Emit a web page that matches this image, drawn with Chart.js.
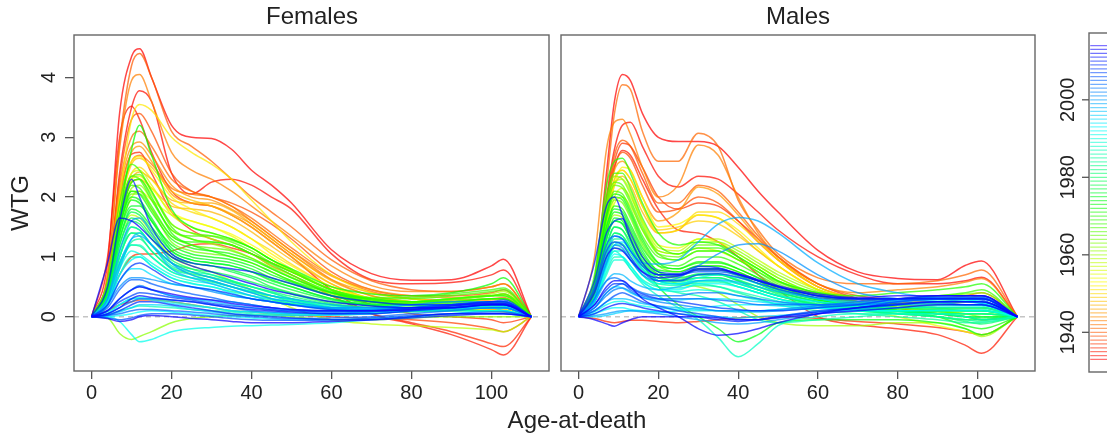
<!DOCTYPE html>
<html>
<head>
<meta charset="utf-8">
<script src="https://cdn.jsdelivr.net/npm/chart.js@4.4.0/dist/chart.umd.min.js"></script>
<style>
  body { margin: 0; background: #fff; overflow: hidden; font-family: "Liberation Sans", Arial, sans-serif; }
  #page { position: relative; width: 1107px; height: 435px; overflow: hidden; }
  .box { position: absolute; top: 0; height: 435px; }
  .lbl { position: absolute; font-size: 24px; line-height: 24px; color: #222; white-space: nowrap; transform: translateX(-50%); }
</style>
</head>
<body>
<div id="page">
  <div class="box" style="left:0;width:552px"><canvas id="fem"></canvas></div>
  <div class="box" style="left:552px;width:490px"><canvas id="mal"></canvas></div>
  <div class="box" style="left:1000px;width:130px"><canvas id="bar"></canvas></div>
  <div class="lbl" style="left:312px;top:4px">Females</div>
  <div class="lbl" style="left:798px;top:4px">Males</div>
  <div class="lbl" style="left:577px;top:408px">Age-at-death</div>
  <div class="lbl" style="left:20px;top:203px;transform:translate(-50%,-50%) rotate(-90deg)">WTG</div>
</div>
<script>
const femaleAges = [0, 4, 7, 10, 12, 15, 20, 25, 30, 35, 40, 45, 50, 60, 70, 80, 90, 100, 103, 110];
const maleAges = [0, 4, 7, 9, 11, 13, 16, 20, 25, 30, 35, 40, 45, 50, 60, 70, 80, 90, 97, 101, 110];

const xTicks = [0, 20, 40, 60, 80, 100];
const yTicks = [0, 1, 2, 3, 4];
const barTicks = [1940, 1960, 1980, 2000];
const barYears = [1933, 1934, 1935, 1936, 1937, 1938, 1939, 1940, 1941, 1942, 1943, 1944, 1945, 1946,
  1947, 1948, 1949, 1950, 1951, 1952, 1953, 1954, 1955, 1956, 1957, 1958, 1959, 1960, 1961, 1962,
  1963, 1964, 1965, 1966, 1967, 1968, 1969, 1970, 1971, 1972, 1973, 1974, 1975, 1976, 1977, 1978,
  1979, 1980, 1981, 1982, 1983, 1984, 1985, 1986, 1987, 1988, 1989, 1990, 1991, 1992, 1993, 1994,
  1995, 1996, 1997, 1998, 1999, 2000, 2001, 2002, 2003, 2004, 2005, 2006, 2007, 2008, 2009, 2010,
  2011, 2012, 2013, 2014];

// one year per row of femaleWTG
const femaleYears = [1933, 1940, 1934, 1935, 1936, 1937, 1938, 1943, 1944, 1945, 1946, 1947, 1951, 1952,
  1954, 1972, 1968, 1966, 1970, 1962, 1964, 1974, 1976, 1978, 1958, 1980, 1982, 1984, 1986, 1988,
  1990, 1993, 1995, 1991, 1997, 1998, 2000, 2010, 2012, 1999, 2001, 2002, 2003, 2004, 2005, 2006,
  2007, 2008, 2009, 2011, 2013, 2014, 1996, 1994, 1992, 1989, 1987,
  1939, 1941, 1942, 1948, 1950, 1953, 1956, 1959, 1961, 1965, 1967, 1969, 1971, 1973, 1975, 1977,
  1979, 1981, 1983, 1985];

const femaleWTG = [
  [0, 0.9, 3.4, 4.35, 4.48, 4.0, 3.2, 3.0, 2.98, 2.8, 2.45, 2.2, 1.9, 1.12, 0.72, 0.61, 0.62, 0.85, 0.96, 0],
  [0, 0.7, 2.9, 4.2, 4.4, 4.0, 3.1, 2.85, 2.6, 2.3, 2.0, 1.75, 1.5, 0.95, 0.6, 0.45, 0.42, 0.5, 0.55, 0],
  [0, 0.5, 2.4, 3.5, 3.78, 3.6, 2.4, 2.05, 2.25, 2.3, 2.2, 2.0, 1.8, 1.05, 0.62, 0.55, 0.57, 0.7, 0.78, 0],
  [0, 1.0, 3.0, 3.52, 3.3, 2.75, 2.1, 1.9, 1.85, 1.7, 1.5, 1.25, 1.0, 0.45, 0.05, -0.12, -0.3, -0.55, -0.64, 0],
  [0, 0.6, 2.0, 2.72, 2.75, 2.4, 1.75, 1.45, 1.3, 1.2, 1.05, 0.85, 0.7, 0.35, 0.05, -0.1, -0.25, -0.45, -0.5, 0],
  [0, 0.3, 0.7, 1.0, 1.05, 1.05, 1.1, 1.2, 1.22, 1.15, 1.05, 0.9, 0.75, 0.45, 0.2, 0.05, 0.0, -0.05, -0.1, 0],
  [0, 0.1, 0.2, 0.25, 0.28, 0.28, 0.25, 0.2, 0.15, 0.1, 0.08, 0.05, 0.03, 0.0, -0.03, -0.05, -0.1, -0.2, -0.25, 0],
  [0, 0.7, 2.8, 3.95, 4.05, 3.6, 2.75, 2.45, 2.3, 2.1, 1.85, 1.6, 1.35, 0.85, 0.52, 0.42, 0.42, 0.5, 0.55, 0],
  [0, 0.6, 2.1, 2.85, 2.92, 2.7, 2.2, 2.0, 1.95, 1.8, 1.6, 1.35, 1.1, 0.68, 0.45, 0.35, 0.32, 0.35, 0.38, 0],
  [0, 0.6, 2.0, 2.75, 2.85, 2.6, 2.05, 1.9, 1.85, 1.72, 1.55, 1.3, 1.05, 0.62, 0.4, 0.3, 0.25, 0.28, 0.3, 0],
  [0, 0.5, 1.6, 2.3, 2.42, 2.3, 1.95, 1.9, 1.9, 1.78, 1.55, 1.3, 1.05, 0.6, 0.35, 0.25, 0.2, 0.2, 0.2, 0],
  [0, 0.5, 1.6, 2.25, 2.3, 2.15, 1.85, 1.8, 1.75, 1.62, 1.42, 1.18, 0.95, 0.55, 0.3, 0.2, 0.15, 0.12, 0.1, 0],
  [0, 0.5, 2.0, 3.3, 3.55, 3.45, 3.0, 2.75, 2.55, 2.3, 1.95, 1.6, 1.25, 0.7, 0.4, 0.3, 0.25, 0.25, 0.25, 0],
  [0, 0.5, 1.8, 2.6, 2.68, 2.45, 2.0, 1.8, 1.65, 1.5, 1.3, 1.05, 0.85, 0.5, 0.3, 0.2, 0.15, 0.1, 0.1, 0],
  [0, 0.4, 1.4, 2.0, 2.1, 1.95, 1.7, 1.6, 1.5, 1.35, 1.15, 0.95, 0.75, 0.45, 0.3, 0.25, 0.2, 0.2, 0.2, 0],
  [0, 0.5, 1.7, 2.8, 3.2, 2.7, 1.8, 1.5, 1.4, 1.3, 1.15, 0.95, 0.8, 0.5, 0.38, 0.35, 0.4, 0.55, 0.65, 0],
  [0, 0.6, 1.9, 2.55, 2.45, 2.1, 1.5, 1.3, 1.25, 1.2, 1.05, 0.9, 0.75, 0.45, 0.32, 0.32, 0.38, 0.45, 0.48, 0],
  [0, 0.5, 1.7, 2.35, 2.38, 2.1, 1.55, 1.4, 1.35, 1.25, 1.1, 0.9, 0.75, 0.45, 0.3, 0.25, 0.3, 0.35, 0.38, 0],
  [0, 0.5, 1.6, 2.25, 2.3, 2.0, 1.4, 1.2, 1.1, 1.0, 0.9, 0.75, 0.6, 0.4, 0.3, 0.25, 0.25, 0.3, 0.3, 0],
  [0, -0.02, -0.28, -0.38, -0.33, -0.25, -0.1, -0.03, 0.0, 0.02, 0.03, 0.02, 0.0, -0.05, -0.05, -0.02, 0.0, 0.0, 0.0, 0],
  [0, 0.5, 1.6, 2.1, 2.1, 1.8, 1.25, 1.1, 1.05, 1.0, 0.9, 0.75, 0.6, 0.35, 0.25, 0.25, 0.3, 0.35, 0.35, 0],
  [0, 0.45, 1.5, 2.0, 1.95, 1.65, 1.15, 1.0, 0.95, 0.9, 0.8, 0.65, 0.55, 0.35, 0.25, 0.2, 0.2, 0.25, 0.25, 0],
  [0, 0.4, 1.4, 1.85, 1.85, 1.6, 1.1, 0.95, 0.9, 0.85, 0.75, 0.6, 0.5, 0.3, 0.2, 0.2, 0.2, 0.2, 0.2, 0],
  [0, 0.4, 1.3, 1.75, 1.7, 1.45, 1.05, 0.9, 0.85, 0.75, 0.65, 0.5, 0.4, 0.25, 0.2, 0.15, 0.15, 0.15, 0.15, 0],
  [0, 0.4, 1.3, 1.7, 1.65, 1.4, 1.0, 0.85, 0.75, 0.6, 0.45, 0.3, 0.15, -0.05, -0.12, -0.15, -0.18, -0.22, -0.25, 0],
  [0, 0.35, 1.2, 1.6, 1.55, 1.3, 0.95, 0.8, 0.7, 0.6, 0.5, 0.4, 0.3, 0.2, 0.15, 0.12, 0.15, 0.2, 0.2, 0],
  [0, 0.3, 1.0, 1.4, 1.4, 1.2, 0.9, 0.75, 0.65, 0.55, 0.45, 0.35, 0.25, 0.15, 0.1, 0.1, 0.1, 0.15, 0.15, 0],
  [0, 0.3, 0.9, 1.25, 1.3, 1.1, 0.8, 0.7, 0.6, 0.5, 0.4, 0.3, 0.22, 0.12, 0.08, 0.08, 0.1, 0.1, 0.1, 0],
  [0, 0.3, 1.0, 1.5, 1.45, 1.2, 0.85, 0.75, 0.7, 0.6, 0.5, 0.4, 0.3, 0.15, 0.1, 0.1, 0.1, 0.1, 0.1, 0],
  [0, 0.25, 0.85, 1.2, 1.2, 1.0, 0.75, 0.65, 0.6, 0.5, 0.42, 0.35, 0.28, 0.18, 0.12, 0.12, 0.15, 0.15, 0.15, 0],
  [0, 0.25, 0.8, 1.1, 1.05, 0.9, 0.7, 0.6, 0.55, 0.45, 0.35, 0.3, 0.25, 0.15, 0.12, 0.15, 0.2, 0.2, 0.2, 0],
  [0, 0.2, 0.7, 0.95, 1.0, 0.85, 0.65, 0.55, 0.5, 0.4, 0.3, 0.25, 0.2, 0.15, 0.15, 0.2, 0.2, 0.2, 0.2, 0],
  [0, 0.2, 0.6, 0.8, 0.8, 0.7, 0.55, 0.5, 0.45, 0.35, 0.3, 0.25, 0.2, 0.15, 0.15, 0.15, 0.15, 0.15, 0.1, 0],
  [0, 0.0, -0.08, -0.3, -0.42, -0.38, -0.25, -0.2, -0.18, -0.16, -0.15, -0.14, -0.13, -0.1, -0.05, 0.0, 0.05, 0.05, 0.05, 0],
  [0, 0.1, 0.3, 0.45, 0.5, 0.45, 0.35, 0.3, 0.25, 0.2, 0.15, 0.12, 0.1, 0.08, 0.1, 0.12, 0.15, 0.15, 0.15, 0],
  [0, 0.2, 0.8, 1.3, 1.4, 1.2, 0.8, 0.65, 0.55, 0.45, 0.35, 0.25, 0.2, 0.12, 0.1, 0.1, 0.12, 0.15, 0.15, 0],
  [0, 0.3, 1.1, 1.6, 1.65, 1.4, 0.9, 0.7, 0.6, 0.5, 0.4, 0.3, 0.25, 0.15, 0.12, 0.15, 0.2, 0.25, 0.25, 0],
  [0, 0.5, 1.6, 2.3, 2.0, 1.5, 1.05, 0.9, 0.85, 0.8, 0.75, 0.65, 0.55, 0.35, 0.25, 0.2, 0.2, 0.25, 0.25, 0],
  [0, 0.9, 1.65, 1.6, 1.5, 1.3, 1.0, 0.85, 0.75, 0.65, 0.55, 0.45, 0.38, 0.25, 0.18, 0.15, 0.15, 0.2, 0.2, 0],
  [0, 0.3, 0.9, 1.3, 1.35, 1.2, 0.9, 0.75, 0.65, 0.55, 0.45, 0.35, 0.3, 0.2, 0.15, 0.15, 0.15, 0.2, 0.2, 0],
  [0, 0.2, 0.5, 0.65, 0.65, 0.62, 0.55, 0.5, 0.42, 0.35, 0.3, 0.25, 0.2, 0.15, 0.15, 0.2, 0.25, 0.25, 0.25, 0],
  [0, 0.1, 0.3, 0.45, 0.52, 0.45, 0.35, 0.3, 0.28, 0.25, 0.2, 0.15, 0.12, 0.1, 0.12, 0.15, 0.2, 0.25, 0.25, 0],
  [0, 0.05, 0.15, 0.25, 0.3, 0.3, 0.28, 0.25, 0.2, 0.15, 0.1, 0.08, 0.06, 0.05, 0.08, 0.12, 0.18, 0.22, 0.22, 0],
  [0, 0.02, 0.05, 0.1, 0.12, 0.12, 0.1, 0.08, 0.05, 0.02, 0.0, -0.02, -0.03, -0.02, 0.0, 0.05, 0.1, 0.15, 0.15, 0],
  [0, 0.15, 0.45, 0.62, 0.62, 0.55, 0.45, 0.38, 0.32, 0.25, 0.2, 0.15, 0.12, 0.1, 0.1, 0.15, 0.2, 0.22, 0.22, 0],
  [0, -0.02, -0.05, -0.02, 0.02, 0.05, 0.05, 0.03, 0.0, -0.03, -0.05, -0.06, -0.06, -0.05, -0.02, 0.02, 0.05, 0.08, 0.08, 0],
  [0, 0.1, 0.25, 0.35, 0.4, 0.38, 0.32, 0.28, 0.22, 0.18, 0.15, 0.12, 0.1, 0.08, 0.1, 0.15, 0.2, 0.25, 0.28, 0],
  [0, 0.2, 0.6, 0.85, 0.9, 0.8, 0.6, 0.5, 0.45, 0.38, 0.3, 0.25, 0.2, 0.12, 0.1, 0.12, 0.15, 0.2, 0.2, 0],
  [0, 0.03, 0.1, 0.2, 0.25, 0.25, 0.2, 0.15, 0.1, 0.05, 0.02, 0.0, -0.02, -0.05, -0.05, -0.02, 0.02, 0.05, 0.05, 0],
  [0, 0.05, 0.15, 0.3, 0.35, 0.32, 0.28, 0.25, 0.2, 0.15, 0.12, 0.1, 0.08, 0.05, 0.05, 0.1, 0.15, 0.2, 0.2, 0],
  [0, -0.03, -0.08, -0.05, 0.0, 0.02, 0.0, -0.03, -0.05, -0.08, -0.1, -0.1, -0.1, -0.08, -0.05, 0.0, 0.05, 0.05, 0.05, 0],
  [0, 0.1, 0.3, 0.45, 0.5, 0.45, 0.38, 0.32, 0.28, 0.22, 0.18, 0.15, 0.12, 0.1, 0.1, 0.12, 0.18, 0.22, 0.22, 0],
  [0, 0.02, 0.08, 0.15, 0.2, 0.2, 0.18, 0.12, 0.08, 0.05, 0.03, 0.02, 0.02, 0.03, 0.05, 0.1, 0.15, 0.18, 0.18, 0],
  [0, 0.05, 0.2, 0.3, 0.3, 0.28, 0.22, 0.18, 0.15, 0.1, 0.08, 0.06, 0.05, 0.05, 0.08, 0.12, 0.18, 0.2, 0.2, 0],
  [0, 0.0, 0.02, 0.05, 0.08, 0.1, 0.08, 0.05, 0.02, 0.0, -0.02, -0.04, -0.05, -0.05, -0.03, 0.0, 0.05, 0.1, 0.1, 0],
  [0, 0.08, 0.2, 0.3, 0.32, 0.3, 0.25, 0.2, 0.15, 0.1, 0.08, 0.06, 0.05, 0.05, 0.08, 0.12, 0.18, 0.22, 0.2, 0],
  [0, 0.03, 0.1, 0.15, 0.18, 0.17, 0.15, 0.12, 0.1, 0.08, 0.05, 0.04, 0.03, 0.03, 0.05, 0.1, 0.15, 0.2, 0.2, 0],
  [0, 0.6, 2.3, 3.3, 3.4, 3.1, 2.4, 2.1, 2.0, 1.9, 1.75, 1.55, 1.3, 0.75, 0.45, 0.35, 0.35, 0.4, 0.45, 0],
  [0, 0.6, 2.2, 3.0, 3.1, 2.85, 2.3, 2.1, 2.0, 1.85, 1.65, 1.4, 1.15, 0.7, 0.42, 0.3, 0.28, 0.3, 0.32, 0],
  [0, 0.5, 1.9, 2.6, 2.7, 2.55, 2.15, 2.05, 2.0, 1.85, 1.6, 1.35, 1.1, 0.62, 0.35, 0.25, 0.2, 0.2, 0.22, 0],
  [0, 0.5, 1.8, 2.55, 2.65, 2.5, 2.1, 1.95, 1.85, 1.7, 1.5, 1.25, 1.0, 0.55, 0.3, 0.2, 0.15, 0.12, 0.12, 0],
  [0, 0.5, 1.7, 2.4, 2.5, 2.3, 1.9, 1.75, 1.65, 1.5, 1.3, 1.1, 0.88, 0.5, 0.3, 0.22, 0.18, 0.15, 0.15, 0],
  [0, 0.45, 1.6, 2.3, 2.35, 2.15, 1.75, 1.6, 1.5, 1.38, 1.2, 1.0, 0.8, 0.45, 0.28, 0.2, 0.15, 0.1, 0.08, 0],
  [0, 0.5, 1.7, 2.4, 2.45, 2.2, 1.7, 1.5, 1.4, 1.3, 1.15, 0.95, 0.78, 0.45, 0.3, 0.25, 0.25, 0.3, 0.3, 0],
  [0, 0.45, 1.6, 2.25, 2.3, 2.05, 1.55, 1.4, 1.3, 1.2, 1.05, 0.85, 0.7, 0.4, 0.28, 0.25, 0.3, 0.38, 0.42, 0],
  [0, 0.45, 1.5, 2.15, 2.2, 1.95, 1.45, 1.3, 1.22, 1.12, 0.98, 0.8, 0.65, 0.38, 0.25, 0.2, 0.2, 0.25, 0.25, 0],
  [0, 0.45, 1.5, 2.05, 2.05, 1.8, 1.35, 1.2, 1.15, 1.1, 0.98, 0.82, 0.66, 0.4, 0.28, 0.25, 0.28, 0.35, 0.38, 0],
  [0, 0.5, 1.7, 2.35, 2.3, 1.95, 1.45, 1.35, 1.35, 1.28, 1.15, 0.95, 0.78, 0.45, 0.3, 0.3, 0.35, 0.42, 0.45, 0],
  [0, 0.45, 1.6, 2.2, 2.15, 1.85, 1.35, 1.25, 1.25, 1.2, 1.05, 0.88, 0.7, 0.42, 0.28, 0.25, 0.3, 0.35, 0.35, 0],
  [0, 0.45, 1.5, 2.1, 2.05, 1.75, 1.3, 1.15, 1.1, 1.05, 0.95, 0.8, 0.65, 0.4, 0.25, 0.22, 0.25, 0.3, 0.3, 0],
  [0, 0.4, 1.4, 1.95, 1.9, 1.6, 1.2, 1.05, 1.0, 0.95, 0.85, 0.7, 0.58, 0.35, 0.22, 0.2, 0.22, 0.25, 0.25, 0],
  [0, 0.4, 1.3, 1.8, 1.75, 1.5, 1.1, 0.95, 0.9, 0.85, 0.75, 0.62, 0.5, 0.3, 0.2, 0.18, 0.2, 0.22, 0.22, 0],
  [0, 0.35, 1.2, 1.65, 1.6, 1.35, 1.0, 0.9, 0.85, 0.78, 0.68, 0.56, 0.45, 0.28, 0.18, 0.15, 0.18, 0.2, 0.2, 0],
  [0, 0.3, 1.1, 1.5, 1.45, 1.2, 0.9, 0.8, 0.75, 0.68, 0.58, 0.48, 0.38, 0.22, 0.15, 0.12, 0.15, 0.18, 0.18, 0],
  [0, 0.3, 1.0, 1.4, 1.35, 1.1, 0.82, 0.72, 0.66, 0.58, 0.5, 0.42, 0.34, 0.2, 0.12, 0.1, 0.12, 0.15, 0.15, 0],
  [0, 0.25, 0.85, 1.2, 1.18, 1.0, 0.75, 0.65, 0.58, 0.5, 0.42, 0.35, 0.28, 0.16, 0.1, 0.1, 0.12, 0.15, 0.15, 0],
  [0, 0.2, 0.7, 1.0, 1.0, 0.85, 0.65, 0.56, 0.5, 0.42, 0.35, 0.28, 0.22, 0.14, 0.1, 0.12, 0.15, 0.18, 0.18, 0]
];

// one year per row of maleWTG
const maleYears = [1933, 1941, 1934, 1943, 1935, 1936, 1945, 1947, 1949, 1952, 1954, 1956, 1970, 1968,
  1966, 1972, 1974, 1964, 1976, 1960, 1978, 1980, 1982, 1984, 1986, 1990, 1988, 1992, 2001, 1999,
  1994, 2011, 2009, 2007, 2005, 2013, 2003, 2004, 2006, 2012, 2008, 2010, 2014, 2002, 2000, 1998,
  1997, 1996, 1995, 1993, 1991,
  1937, 1939, 1940, 1950, 1958, 1962, 1965, 1967, 1969, 1971, 1973, 1975, 1979, 1981, 1983, 1985,
  1987, 1989];

const maleWTG = [
  [0, 0.6, 2.4, 3.6, 4.05, 3.95, 3.4, 3.0, 2.93, 2.93, 2.85, 2.5, 2.1, 1.75, 1.11, 0.75, 0.64, 0.62, 0.86, 0.93, 0],
  [0, 0.5, 2.2, 3.4, 3.88, 3.8, 3.1, 2.6, 2.6, 3.07, 2.85, 1.95, 1.45, 1.05, 0.65, 0.55, 0.55, 0.6, 0.7, 0.78, 0],
  [0, 0.6, 2.0, 2.8, 3.2, 3.25, 2.85, 2.35, 2.17, 2.35, 2.3, 2.05, 1.75, 1.45, 1.0, 0.7, 0.55, 0.55, 0.6, 0.66, 0],
  [0, 1.0, 2.8, 3.25, 3.3, 3.05, 2.5, 2.0, 2.2, 2.87, 2.7, 2.0, 1.4, 1.0, 0.55, 0.4, 0.45, 0.5, 0.58, 0.64, 0],
  [0, 0.5, 1.8, 2.5, 2.78, 2.7, 2.3, 1.8, 1.45, 1.4, 1.25, 1.0, 0.7, 0.45, 0.0, -0.14, -0.2, -0.3, -0.48, -0.61, 0],
  [0, -0.03, -0.08, -0.1, -0.08, -0.06, -0.06, -0.08, -0.1, -0.08, -0.05, -0.02, 0.0, 0.0, -0.03, -0.08, -0.12, -0.18, -0.25, -0.3, 0],
  [0, 0.5, 1.8, 2.45, 2.6, 2.45, 2.0, 1.6, 1.75, 2.17, 2.05, 1.7, 1.3, 0.95, 0.5, 0.3, 0.25, 0.25, 0.3, 0.35, 0],
  [0, 0.5, 1.6, 2.2, 2.35, 2.2, 1.75, 1.4, 1.45, 1.7, 1.65, 1.4, 1.1, 0.85, 0.45, 0.3, 0.2, 0.2, 0.25, 0.3, 0],
  [0, 0.5, 1.7, 2.3, 2.45, 2.3, 1.85, 1.45, 1.5, 1.6, 1.55, 1.35, 1.1, 0.85, 0.45, 0.25, 0.15, 0.1, 0.1, 0.1, 0],
  [0, 0.4, 1.5, 2.2, 2.5, 2.45, 2.0, 1.5, 1.55, 1.7, 1.65, 1.45, 1.15, 0.85, 0.45, 0.25, 0.15, 0.1, 0.05, 0.05, 0],
  [0, 0.4, 1.4, 2.0, 2.15, 2.0, 1.6, 1.2, 1.15, 1.3, 1.25, 1.05, 0.85, 0.65, 0.35, 0.15, 0.0, -0.15, -0.25, -0.3, 0],
  [0, 0.4, 1.4, 1.9, 2.0, 1.85, 1.45, 1.1, 1.05, 1.15, 1.1, 0.95, 0.8, 0.6, 0.35, 0.2, 0.1, 0.05, 0.05, 0.05, 0],
  [0, 0.7, 2.2, 2.6, 2.65, 2.4, 1.9, 1.4, 1.2, 1.25, 1.2, 1.0, 0.8, 0.6, 0.4, 0.35, 0.4, 0.45, 0.5, 0.55, 0],
  [0, 0.6, 2.0, 2.4, 2.4, 2.15, 1.65, 1.2, 1.05, 1.15, 1.15, 1.0, 0.8, 0.6, 0.4, 0.3, 0.3, 0.35, 0.4, 0.45, 0],
  [0, 0.6, 1.9, 2.25, 2.2, 1.95, 1.5, 1.05, 0.95, 1.1, 1.1, 0.95, 0.75, 0.55, 0.35, 0.25, 0.2, 0.15, 0.1, 0.1, 0],
  [0, 0.5, 1.7, 2.05, 2.0, 1.75, 1.3, 0.9, 0.8, 0.9, 0.9, 0.8, 0.65, 0.5, 0.3, 0.2, 0.1, 0.0, -0.15, -0.2, 0],
  [0, 0.4, 1.3, 1.6, 1.55, 1.3, 0.9, 0.5, 0.2, 0.0, -0.2, -0.42, -0.3, -0.1, -0.05, -0.05, -0.05, -0.1, -0.2, -0.3, 0],
  [0, 0.5, 1.6, 1.95, 1.9, 1.65, 1.2, 0.85, 0.75, 0.85, 0.85, 0.75, 0.6, 0.45, 0.3, 0.2, 0.15, 0.1, 0.05, 0.0, 0],
  [0, 0.5, 1.5, 1.8, 1.75, 1.5, 1.1, 0.75, 0.65, 0.7, 0.7, 0.6, 0.45, 0.35, 0.2, 0.1, 0.05, 0.0, -0.05, -0.05, 0],
  [0, 0.4, 1.4, 1.7, 1.65, 1.4, 1.0, 0.7, 0.55, 0.5, 0.4, 0.2, 0.0, -0.1, -0.15, -0.15, -0.1, -0.1, -0.2, -0.33, 0],
  [0, 0.4, 1.3, 1.6, 1.55, 1.3, 0.95, 0.7, 0.6, 0.65, 0.65, 0.55, 0.45, 0.35, 0.2, 0.15, 0.1, 0.05, 0.0, 0.0, 0],
  [0, 0.35, 1.2, 1.5, 1.45, 1.2, 0.9, 0.65, 0.6, 0.7, 0.7, 0.6, 0.5, 0.4, 0.25, 0.15, 0.1, 0.1, 0.1, 0.1, 0],
  [0, 0.35, 1.1, 1.4, 1.35, 1.15, 0.85, 0.6, 0.55, 0.6, 0.6, 0.5, 0.4, 0.3, 0.2, 0.12, 0.1, 0.1, 0.1, 0.1, 0],
  [0, 0.3, 1.0, 1.3, 1.3, 1.1, 0.8, 0.6, 0.55, 0.55, 0.5, 0.4, 0.3, 0.2, 0.1, 0.05, 0.0, -0.05, -0.1, -0.1, 0],
  [0, 0.3, 0.9, 1.2, 1.2, 1.0, 0.7, 0.5, 0.4, 0.35, 0.25, 0.1, -0.05, -0.1, -0.05, 0.0, 0.05, 0.05, 0.05, 0.05, 0],
  [0, 0.3, 0.85, 1.1, 1.1, 0.95, 0.7, 0.55, 0.55, 0.65, 0.7, 0.65, 0.55, 0.45, 0.3, 0.2, 0.15, 0.15, 0.15, 0.15, 0],
  [0, 0.3, 0.9, 1.1, 1.0, 0.8, 0.55, 0.35, 0.15, -0.05, -0.35, -0.67, -0.45, -0.15, 0.0, 0.05, 0.05, 0.05, 0.0, -0.05, 0],
  [0, 0.25, 0.8, 1.05, 1.0, 0.85, 0.6, 0.45, 0.45, 0.55, 0.55, 0.5, 0.4, 0.3, 0.15, 0.1, 0.1, 0.1, 0.1, 0.1, 0],
  [0, 0.3, 0.9, 1.2, 1.15, 0.95, 0.7, 0.6, 0.65, 0.85, 1.05, 1.2, 1.22, 1.1, 0.7, 0.4, 0.3, 0.25, 0.2, 0.2, 0],
  [0, 0.3, 1.0, 1.35, 1.3, 1.1, 0.9, 0.88, 0.95, 1.25, 1.55, 1.66, 1.6, 1.4, 0.9, 0.55, 0.4, 0.3, 0.25, 0.22, 0],
  [0, 0.3, 0.9, 1.2, 1.25, 1.1, 0.8, 0.6, 0.55, 0.6, 0.6, 0.55, 0.45, 0.35, 0.25, 0.2, 0.2, 0.2, 0.2, 0.2, 0],
  [0, 0.9, 1.85, 2.0, 1.7, 1.3, 0.9, 0.7, 0.7, 0.8, 0.8, 0.7, 0.6, 0.5, 0.35, 0.3, 0.3, 0.3, 0.3, 0.3, 0],
  [0, 0.6, 1.4, 1.6, 1.64, 1.4, 1.0, 0.75, 0.72, 0.84, 0.82, 0.72, 0.6, 0.5, 0.35, 0.3, 0.3, 0.35, 0.35, 0.35, 0],
  [0, 0.45, 1.1, 1.25, 1.2, 1.0, 0.75, 0.6, 0.6, 0.7, 0.72, 0.66, 0.56, 0.46, 0.32, 0.28, 0.3, 0.32, 0.32, 0.32, 0],
  [0, 0.5, 1.2, 1.35, 1.3, 1.1, 0.85, 0.7, 0.7, 0.75, 0.75, 0.7, 0.6, 0.5, 0.35, 0.3, 0.3, 0.3, 0.3, 0.3, 0],
  [0, -0.05, -0.12, -0.16, -0.1, -0.05, 0.0, 0.0, 0.0, 0.0, -0.02, -0.05, -0.05, -0.02, 0.05, 0.1, 0.15, 0.2, 0.2, 0.2, 0],
  [0, 0.3, 0.6, 0.65, 0.6, 0.5, 0.4, 0.35, 0.35, 0.4, 0.4, 0.35, 0.3, 0.25, 0.2, 0.2, 0.25, 0.3, 0.3, 0.3, 0],
  [0, 0.15, 0.4, 0.5, 0.55, 0.45, 0.35, 0.3, 0.3, 0.3, 0.28, 0.25, 0.2, 0.2, 0.2, 0.25, 0.3, 0.3, 0.3, 0.3, 0],
  [0, 0.1, 0.25, 0.35, 0.4, 0.35, 0.25, 0.18, 0.1, 0.05, 0.0, -0.05, -0.05, 0.0, 0.1, 0.15, 0.25, 0.3, 0.3, 0.28, 0],
  [0, 0.2, 0.5, 0.6, 0.6, 0.5, 0.3, 0.15, 0.0, -0.2, -0.31, -0.28, -0.2, -0.1, 0.05, 0.15, 0.2, 0.25, 0.25, 0.25, 0],
  [0, 0.2, 0.45, 0.55, 0.55, 0.48, 0.38, 0.3, 0.25, 0.2, 0.15, 0.12, 0.1, 0.1, 0.15, 0.2, 0.3, 0.35, 0.35, 0.35, 0],
  [0, 0.05, 0.15, 0.2, 0.22, 0.2, 0.15, 0.1, 0.05, 0.0, -0.05, -0.08, -0.05, 0.0, 0.08, 0.15, 0.22, 0.25, 0.25, 0.25, 0],
  [0, 0.4, 1.0, 1.15, 1.1, 0.95, 0.75, 0.65, 0.68, 0.78, 0.78, 0.72, 0.62, 0.52, 0.38, 0.32, 0.35, 0.35, 0.35, 0.35, 0],
  [0, 0.15, 0.35, 0.45, 0.48, 0.42, 0.32, 0.25, 0.2, 0.15, 0.1, 0.1, 0.1, 0.12, 0.18, 0.22, 0.28, 0.3, 0.3, 0.3, 0],
  [0, 0.02, 0.05, 0.08, 0.1, 0.1, 0.08, 0.05, 0.0, -0.05, -0.1, -0.12, -0.1, -0.05, 0.05, 0.12, 0.2, 0.22, 0.2, 0.2, 0],
  [0, 0.25, 0.6, 0.72, 0.7, 0.6, 0.5, 0.45, 0.5, 0.6, 0.62, 0.58, 0.5, 0.42, 0.3, 0.25, 0.28, 0.3, 0.3, 0.3, 0],
  [0, 0.1, 0.25, 0.3, 0.3, 0.28, 0.22, 0.18, 0.15, 0.12, 0.1, 0.08, 0.08, 0.1, 0.15, 0.2, 0.25, 0.3, 0.3, 0.3, 0],
  [0, 0.0, 0.02, 0.05, 0.08, 0.1, 0.1, 0.08, 0.05, 0.02, 0.0, -0.02, 0.0, 0.02, 0.08, 0.15, 0.2, 0.25, 0.25, 0.22, 0],
  [0, 0.15, 0.4, 0.5, 0.48, 0.4, 0.32, 0.28, 0.28, 0.3, 0.3, 0.28, 0.25, 0.22, 0.2, 0.22, 0.28, 0.32, 0.32, 0.32, 0],
  [0, 0.05, 0.12, 0.15, 0.15, 0.12, 0.1, 0.08, 0.1, 0.15, 0.18, 0.2, 0.2, 0.18, 0.15, 0.18, 0.25, 0.3, 0.28, 0.25, 0],
  [0, 0.08, 0.2, 0.25, 0.26, 0.22, 0.18, 0.15, 0.12, 0.1, 0.1, 0.1, 0.1, 0.12, 0.15, 0.2, 0.25, 0.28, 0.28, 0.25, 0],
  [0, 0.5, 1.9, 2.6, 2.9, 2.85, 2.5, 2.0, 1.8, 1.9, 1.85, 1.6, 1.3, 1.0, 0.55, 0.3, 0.15, 0.05, 0.0, -0.05, 0],
  [0, 0.5, 1.8, 2.5, 2.75, 2.65, 2.2, 1.75, 1.8, 2.0, 1.9, 1.6, 1.25, 0.95, 0.5, 0.3, 0.2, 0.15, 0.15, 0.15, 0],
  [0, 0.5, 1.9, 2.7, 2.95, 2.85, 2.4, 1.9, 1.9, 2.2, 2.1, 1.75, 1.35, 1.0, 0.55, 0.35, 0.3, 0.3, 0.35, 0.4, 0],
  [0, 0.45, 1.6, 2.3, 2.45, 2.3, 1.85, 1.4, 1.45, 1.75, 1.75, 1.55, 1.25, 0.95, 0.5, 0.3, 0.2, 0.15, 0.15, 0.15, 0],
  [0, 0.5, 1.8, 2.25, 2.3, 2.1, 1.6, 1.15, 1.1, 1.3, 1.3, 1.15, 0.95, 0.75, 0.45, 0.3, 0.25, 0.2, 0.2, 0.2, 0],
  [0, 0.6, 1.9, 2.35, 2.3, 2.05, 1.55, 1.1, 1.05, 1.25, 1.25, 1.1, 0.9, 0.7, 0.42, 0.3, 0.3, 0.35, 0.38, 0.4, 0],
  [0, 0.55, 1.8, 2.2, 2.15, 1.9, 1.45, 1.05, 1.0, 1.2, 1.2, 1.05, 0.85, 0.65, 0.38, 0.25, 0.22, 0.22, 0.25, 0.25, 0],
  [0, 0.5, 1.7, 2.1, 2.05, 1.8, 1.35, 1.0, 0.95, 1.1, 1.1, 0.95, 0.75, 0.58, 0.35, 0.22, 0.18, 0.15, 0.15, 0.15, 0],
  [0, 0.5, 1.65, 2.0, 1.95, 1.7, 1.25, 0.9, 0.85, 1.0, 1.0, 0.88, 0.7, 0.52, 0.3, 0.2, 0.15, 0.12, 0.1, 0.1, 0],
  [0, 0.45, 1.5, 1.85, 1.8, 1.55, 1.15, 0.85, 0.8, 0.92, 0.92, 0.8, 0.65, 0.48, 0.28, 0.18, 0.12, 0.08, 0.05, 0.05, 0],
  [0, 0.4, 1.4, 1.75, 1.7, 1.45, 1.05, 0.78, 0.75, 0.85, 0.85, 0.75, 0.6, 0.45, 0.28, 0.18, 0.15, 0.15, 0.15, 0.15, 0],
  [0, 0.4, 1.3, 1.65, 1.6, 1.35, 1.0, 0.75, 0.7, 0.8, 0.8, 0.7, 0.55, 0.42, 0.25, 0.15, 0.1, 0.05, 0.0, -0.05, 0],
  [0, 0.35, 1.15, 1.5, 1.45, 1.25, 0.92, 0.7, 0.68, 0.78, 0.78, 0.68, 0.55, 0.42, 0.25, 0.15, 0.1, 0.05, 0.0, -0.02, 0],
  [0, 0.3, 1.05, 1.4, 1.35, 1.15, 0.85, 0.65, 0.62, 0.72, 0.72, 0.62, 0.5, 0.38, 0.22, 0.12, 0.05, 0.0, -0.08, -0.12, 0],
  [0, 0.3, 0.95, 1.25, 1.22, 1.05, 0.78, 0.6, 0.58, 0.65, 0.65, 0.56, 0.45, 0.35, 0.2, 0.12, 0.08, 0.05, 0.05, 0.05, 0],
  [0, 0.25, 0.85, 1.15, 1.12, 0.95, 0.7, 0.55, 0.52, 0.58, 0.58, 0.5, 0.4, 0.3, 0.18, 0.1, 0.05, 0.0, -0.05, -0.08, 0],
  [0, 0.25, 0.75, 1.0, 1.0, 0.85, 0.62, 0.5, 0.48, 0.52, 0.5, 0.42, 0.34, 0.26, 0.15, 0.1, 0.1, 0.12, 0.12, 0.12, 0],
  [0, 0.25, 0.7, 0.95, 0.95, 0.8, 0.58, 0.45, 0.42, 0.45, 0.42, 0.35, 0.28, 0.22, 0.15, 0.12, 0.15, 0.18, 0.18, 0.18, 0]
];

const FONT = '"Liberation Sans", Arial, sans-serif';

// rainbow from red (first year) to blue (last year)
function yearColor(yr, alpha) {
  const h = (yr - 1933) / (2014 - 1933) * 245;
  return `hsla(${h.toFixed(1)}, 100%, 50%, ${alpha})`;
}

const panelFrame = {
  id: 'panelFrame',
  beforeDatasetsDraw(chart) {
    const { ctx, chartArea: a, scales: { y } } = chart;
    const y0 = y.getPixelForValue(0);
    ctx.save();
    ctx.strokeStyle = '#c4c4c4';
    ctx.lineWidth = 1.5;
    ctx.setLineDash([5, 4]);
    ctx.beginPath();
    ctx.moveTo(a.left, y0);
    ctx.lineTo(a.right, y0);
    ctx.stroke();
    ctx.restore();
  },
  afterDraw(chart, args, opts) {
    const { ctx, chartArea: a, scales: { y } } = chart;
    ctx.save();
    ctx.strokeStyle = '#666';
    ctx.lineWidth = 1.4;
    ctx.strokeRect(a.left, a.top, a.right - a.left, a.bottom - a.top);
    if (opts.yLabels) {
      ctx.fillStyle = '#222';
      ctx.font = '20px ' + FONT;
      ctx.textAlign = 'center';
      ctx.textBaseline = 'middle';
      yTicks.forEach(v => {
        ctx.save();
        ctx.translate(a.left - 25, y.getPixelForValue(v));
        ctx.rotate(-Math.PI / 2);
        ctx.fillText(String(v), 0, 0);
        ctx.restore();
      });
    }
    ctx.restore();
  }
};

function makePanel(id, ages, years, rows, showY, pad) {
  // oldest years first, newest drawn last (on top)
  const order = years.map((_, i) => i).sort((a, b) => years[b] - years[a]);
  const datasets = order.map(i => ({
    data: ages.map((a, k) => ({ x: a, y: rows[i][k] })),
    borderColor: yearColor(years[i], 0.72),
    borderWidth: 1.5,
    pointRadius: 0,
    fill: false,
    cubicInterpolationMode: 'monotone'
  }));
  return new Chart(document.getElementById(id), {
    type: 'line',
    data: { datasets },
    plugins: [panelFrame],
    options: {
      animation: false,
      responsive: true,
      maintainAspectRatio: false,
      events: [],
      layout: { padding: pad },
      plugins: {
        legend: { display: false },
        tooltip: { enabled: false },
        panelFrame: { yLabels: showY }
      },
      scales: {
        x: {
          type: 'linear',
          min: -4.4,
          max: 114.4,
          afterBuildTicks: s => { s.ticks = xTicks.map(v => ({ value: v })); },
          afterFit: s => { s.height = 64; },
          border: { display: false },
          grid: { drawOnChartArea: false, tickLength: 8, color: '#555', lineWidth: 1.3 },
          ticks: { color: '#222', font: { size: 20, family: FONT }, padding: 2, maxRotation: 0, autoSkip: false }
        },
        y: {
          type: 'linear',
          display: showY,
          min: -0.908,
          max: 4.711,
          afterBuildTicks: s => { s.ticks = yTicks.map(v => ({ value: v })); },
          afterFit: s => { s.width = showY ? 74 : 0; },
          border: { display: false },
          grid: { drawOnChartArea: false, tickLength: 9, color: '#555', lineWidth: 1.3 },
          ticks: { display: false }
        }
      }
    }
  });
}

makePanel('fem', femaleAges, femaleYears, femaleWTG, true, { top: 35, left: 0, right: 3, bottom: 0 });
makePanel('mal', maleAges, maleYears, maleWTG, false, { top: 35, left: 9, right: 7, bottom: 0 });

// colour key
const barFrame = {
  id: 'barFrame',
  afterDraw(chart) {
    const { ctx, chartArea: a, scales: { y } } = chart;
    ctx.save();
    ctx.strokeStyle = '#666';
    ctx.lineWidth = 1.4;
    ctx.strokeRect(a.left, a.top, a.right - a.left + 20, a.bottom - a.top);
    ctx.strokeStyle = '#555';
    ctx.lineWidth = 1.3;
    ctx.fillStyle = '#222';
    ctx.font = '20px ' + FONT;
    ctx.textAlign = 'center';
    ctx.textBaseline = 'middle';
    barTicks.forEach(v => {
      const py = y.getPixelForValue(v);
      ctx.beginPath();
      ctx.moveTo(a.left - 7, py);
      ctx.lineTo(a.left, py);
      ctx.stroke();
      ctx.save();
      ctx.translate(a.left - 20.5, py);
      ctx.rotate(-Math.PI / 2);
      ctx.fillText(String(v), 0, 0);
      ctx.restore();
    });
    ctx.restore();
  }
};

new Chart(document.getElementById('bar'), {
  type: 'line',
  data: {
    datasets: barYears.map(yr => ({
      data: [{ x: 0.03, y: yr }, { x: 1, y: yr }],
      borderColor: yearColor(yr, 0.55),
      borderWidth: 1.2,
      pointRadius: 0
    }))
  },
  plugins: [barFrame],
  options: {
    animation: false,
    responsive: true,
    maintainAspectRatio: false,
    events: [],
    layout: { padding: { top: 33, left: 89, right: 0, bottom: 63 } },
    plugins: { legend: { display: false }, tooltip: { enabled: false } },
    scales: {
      x: { type: 'linear', display: false, min: 0, max: 1 },
      y: { type: 'linear', display: false, min: 1929.76, max: 2017.24 }
    }
  }
});
</script>
</body>
</html>
